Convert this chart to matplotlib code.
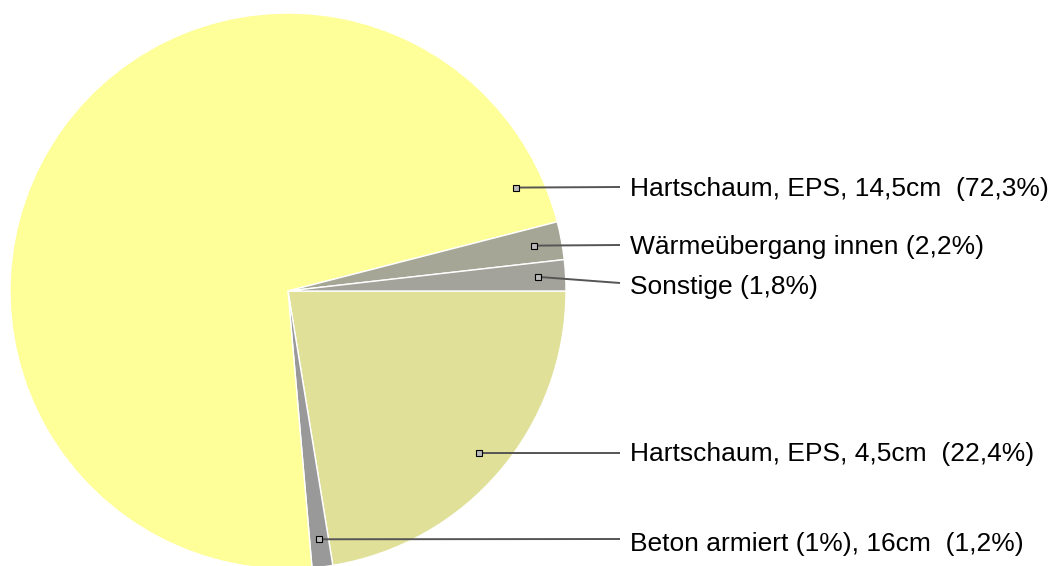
import numpy as np
import matplotlib
matplotlib.use("Agg")
import matplotlib.pyplot as plt

# data (clockwise from 3 o'clock)
labels = ["Hartschaum, EPS, 4,5cm  (22,4%)", "Beton armiert (1%), 16cm  (1,2%)",
          "Hartschaum, EPS, 14,5cm  (72,3%)", "Wärmeübergang innen (2,2%)", "Sonstige (1,8%)"]
values = [22.4, 1.2, 72.3, 2.2, 1.8]
colors = ["#E0E099", "#999999", "#FFFF99", "#A6A696", "#A3A39B"]

# layout in pixels (y measured from top)
W, H = 1054, 566
CX, CY, R = 288, 291, 278
label_x, line_end_x = 630, 620
line_end_y = [453, 539, 187, 245, 283]
text_y = [454, 544, 189, 247, 287]

fig = plt.figure(figsize=(W / 100, H / 100), dpi=100)
ax = fig.add_axes([0, 0, 1, 1])
wedges, _ = ax.pie(values, colors=colors, startangle=0, counterclock=False,
                   center=(CX, H - CY), radius=R,
                   wedgeprops=dict(edgecolor="white", linewidth=1.0))
ax.set_xlim(0, W)
ax.set_ylim(0, H)
ax.set_aspect("equal")
ax.axis("off")

for i, w in enumerate(wedges):
    t1, t2 = w.theta1, w.theta2
    if t2 - t1 > 180:
        ang = t1 + 10  # big slice: anchor near its right edge
    else:
        ang = (t1 + t2) / 2
    ang = np.deg2rad(ang)
    mx = CX + 0.9 * R * np.cos(ang)
    my = (H - CY) + 0.9 * R * np.sin(ang)
    ax.plot([mx, line_end_x], [my, H - line_end_y[i]], color="#555555", lw=1.4,
            solid_capstyle="butt", zorder=3)
    ax.plot(mx, my, marker="s", ms=4, mfc="#bbbbbb", mec="black", mew=0.8, zorder=4)
    ax.text(label_x, H - text_y[i], labels[i], ha="left", va="center",
            fontsize=19, family="Liberation Sans", color="black")

fig.savefig("out.png", dpi=100, facecolor="white")
